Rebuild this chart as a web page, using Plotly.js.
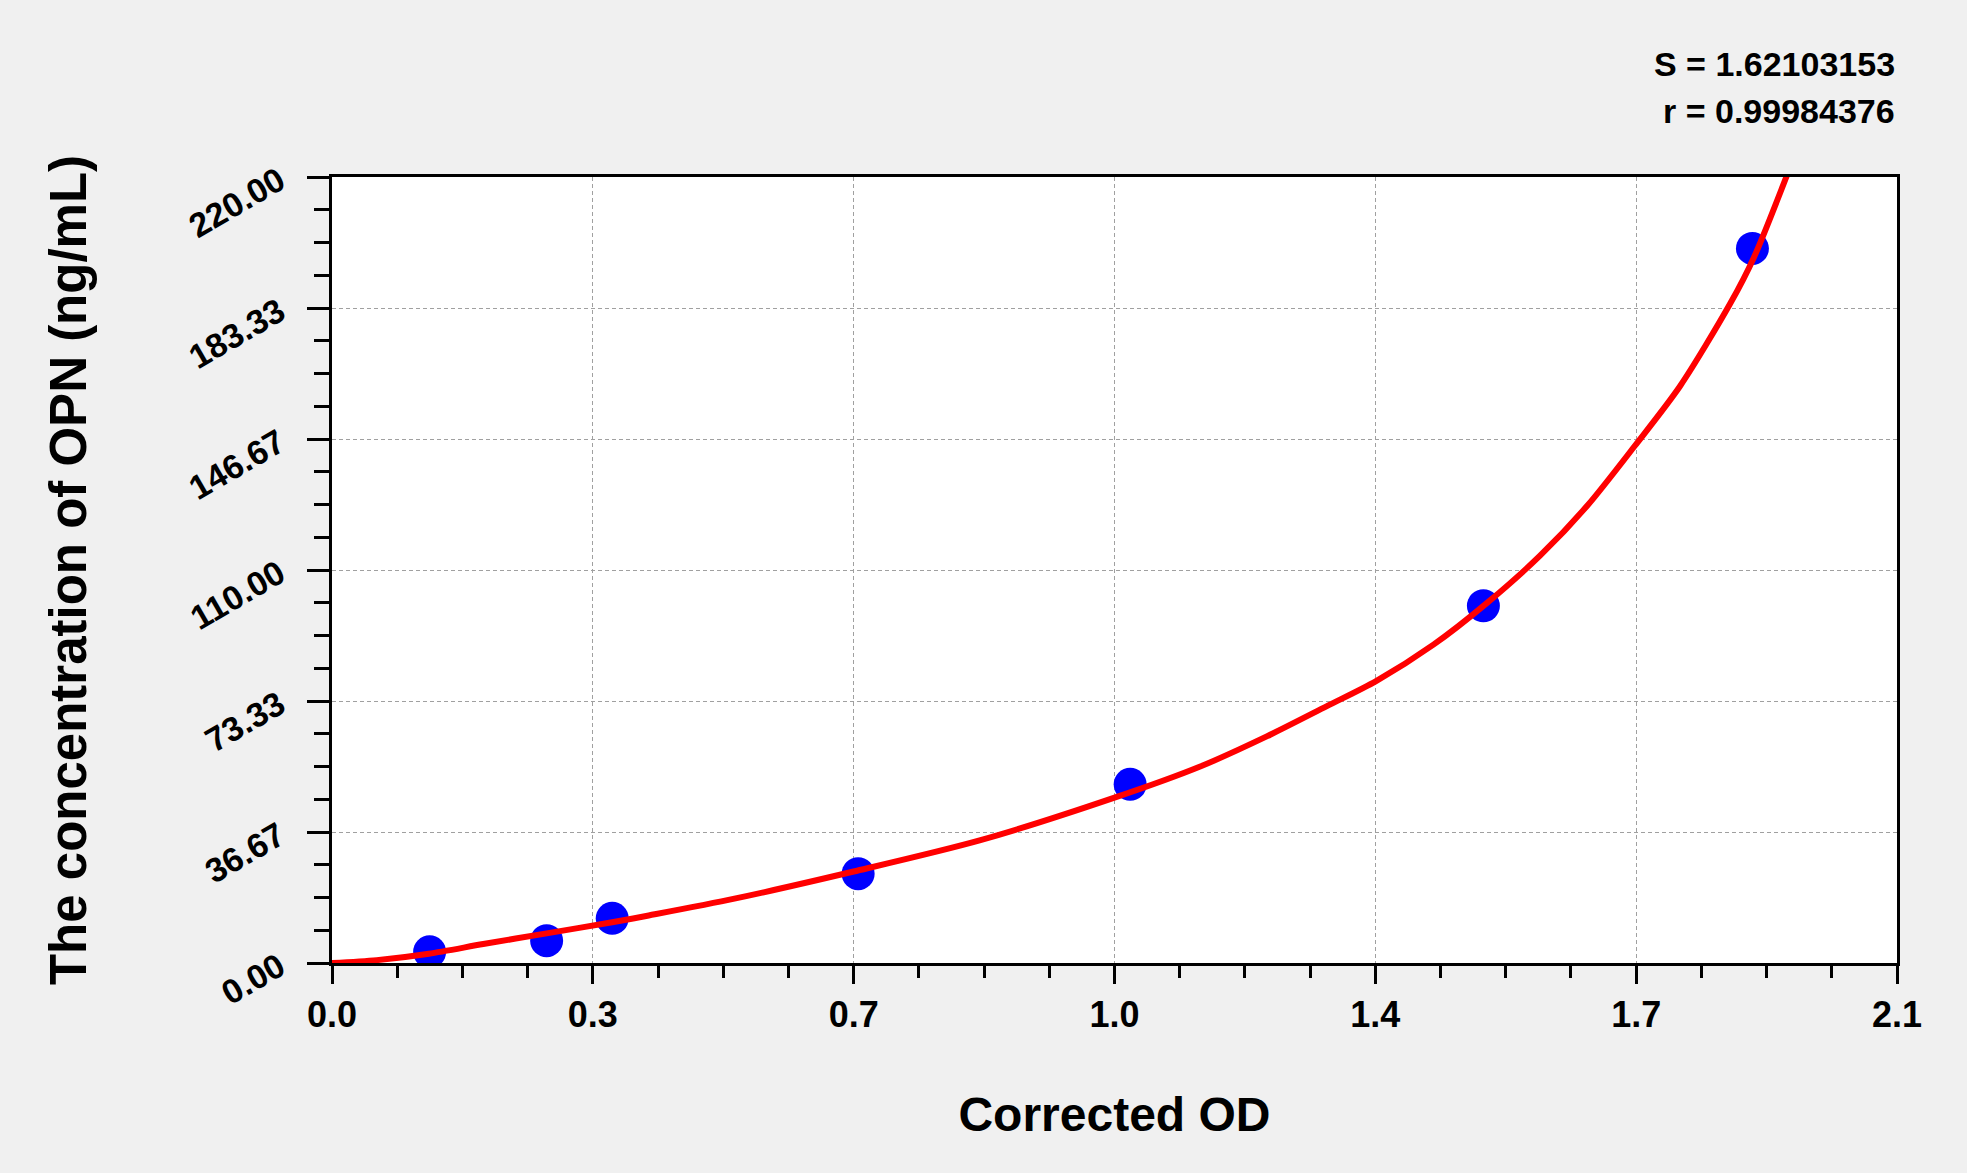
<!DOCTYPE html>
<html>
<head>
<meta charset="utf-8">
<script src="https://cdn.plot.ly/plotly-3.0.1.min.js"></script>
<style>
  html, body { margin: 0; padding: 0; background: #F0F0F0; }
  #chart { width: 1967px; height: 1173px; }
</style>
</head>
<body>
<div id="chart"></div>
<script>
// Measured standards (Corrected OD vs concentration)
const odValues   = [0.131, 0.288, 0.376, 0.706, 1.071, 1.545, 1.906];
const concValues = [3.125, 6.25, 12.5, 25, 50, 100, 200];

// Fitted curve, read point-by-point from the picture
const curveOD   = [0, 0.06, 0.13, 0.203, 0.288, 0.376, 0.425, 0.54, 0.70, 0.869, 1.049, 1.165, 1.255, 1.335, 1.401, 1.478, 1.55, 1.621, 1.684, 1.748, 1.809, 1.876, 1.908, 1.957];
const curveConc = [0, 0.8, 2.6, 5.3, 8.3, 11.4, 13.3, 18.0, 25.6, 34.3, 46.2, 55.0, 63.5, 71.9, 78.9, 89.1, 100.8, 114.0, 127.9, 144.7, 161.5, 184.5, 197.5, 223.0];

// Axis ticks
const xTickVals = [0, 0.35, 0.7, 1.05, 1.4, 1.75, 2.1];
const xTickText = ['0.0', '0.3', '0.7', '1.0', '1.4', '1.7', '2.1'];
const yTickVals = [0, 36.6667, 73.3333, 110, 146.6667, 183.3333, 220];
const yTickText = ['0.00', '36.67', '73.33', '110.00', '146.67', '183.33', '220.00'];

const statS = 'S = 1.62103153';
const statR = 'r = 0.99984376';

const FONT = 'Liberation Sans, Arial, sans-serif';

const traces = [
  {
    x: odValues, y: concValues,
    type: 'scatter', mode: 'markers',
    marker: { color: '#0000FF', size: 33, line: { width: 0 } },
    hoverinfo: 'x+y', showlegend: false
  },
  {
    x: curveOD, y: curveConc,
    type: 'scatter', mode: 'lines',
    line: { color: '#FF0000', width: 6, shape: 'spline', smoothing: 0.8 },
    hoverinfo: 'skip', showlegend: false
  }
];

const layout = {
  width: 1967, height: 1173,
  paper_bgcolor: '#F0F0F0',
  plot_bgcolor: '#FFFFFF',
  margin: { l: 332, r: 70, t: 177, b: 210, pad: 0 },
  font: { family: FONT, color: '#000000' },
  showlegend: false,
  xaxis: {
    range: [0, 2.1],
    autorange: false,
    tickmode: 'array', tickvals: xTickVals, ticktext: xTickText,
    ticks: 'outside', ticklen: 18, tickwidth: 3, tickcolor: '#000',
    ticklabelstandoff: 0,
    tickfont: { family: FONT, size: 36, weight: 'bold', color: '#000' },
    showline: true, linecolor: '#000', linewidth: 3, mirror: true,
    showgrid: true, gridcolor: '#A0A0A0', gridwidth: 1, griddash: '4px,3px',
    zeroline: false,
    minor: { tickmode: 'linear', tick0: 0, dtick: 0.0875, ticks: 'outside', ticklen: 12, tickwidth: 3, tickcolor: '#000', showgrid: false },
    title: { text: 'Corrected OD', font: { family: FONT, size: 48, weight: 'bold', color: '#000' }, standoff: 64 }
  },
  yaxis: {
    range: [0, 220],
    autorange: false,
    tickmode: 'array', tickvals: yTickVals, ticktext: yTickText,
    ticks: 'outside', ticklen: 22, tickwidth: 3, tickcolor: '#000',
    tickangle: -30,
    ticklabelstandoff: 21,
    tickfont: { family: FONT, size: 34, weight: 'bold', color: '#000' },
    showline: true, linecolor: '#000', linewidth: 3, mirror: true,
    showgrid: true, gridcolor: '#A0A0A0', gridwidth: 1, griddash: '4px,3px',
    zeroline: false,
    minor: { tickmode: 'linear', tick0: 0, dtick: 9.16667, ticks: 'outside', ticklen: 15, tickwidth: 3, tickcolor: '#000', showgrid: false },
    title: { text: 'The concentration of OPN (ng/mL)', font: { family: FONT, size: 51, weight: 'bold', color: '#000' }, standoff: 80 }
  },
  annotations: [
    { xref: 'paper', yref: 'paper', x: 1.0, y: 1.144, xanchor: 'right', yanchor: 'middle',
      text: statS, showarrow: false, font: { family: FONT, size: 34, weight: 'bold', color: '#000' } },
    { xref: 'paper', yref: 'paper', x: 1.0, y: 1.0836, xanchor: 'right', yanchor: 'middle',
      text: statR, showarrow: false, font: { family: FONT, size: 34, weight: 'bold', color: '#000' } }
  ]
};

Plotly.newPlot('chart', traces, layout, { displayModeBar: false, staticPlot: true });
</script>
</body>
</html>
